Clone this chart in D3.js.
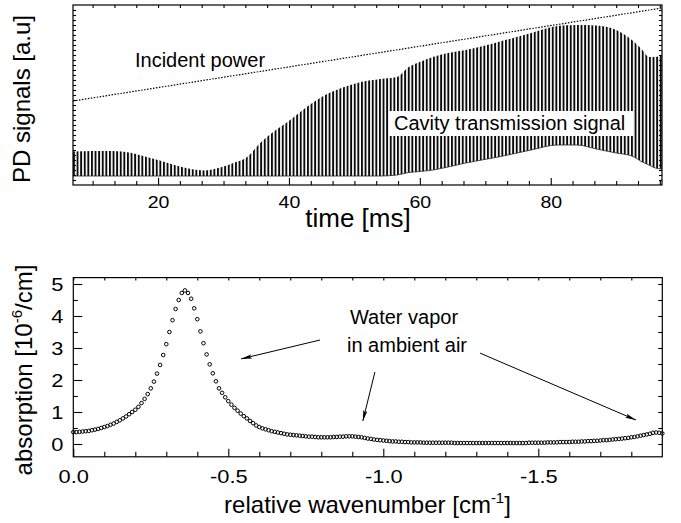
<!DOCTYPE html>
<html><head><meta charset="utf-8">
<script src="https://cdn.jsdelivr.net/npm/d3@7"></script>
<style>
body{margin:0;background:#fff;}
svg{display:block;font-family:"Liberation Sans",Arial,Helvetica,sans-serif;}
</style></head><body>
<svg id="chart" width="681" height="523"></svg>
<script>
// ---------- data: top panel ----------
const timeTicks = [20, 40, 60, 80];
const incidentTime = [7, 97];
const incidentPower = [16.8, 35.4];
const envTime  = [7,10,13,16,18,20,22.5,25,27,29.5,31.5,33.6,35.6,38,40,42.5,45,48,51,54,56.5,58.3,60,62,64.3,67,72,77,81,84,87,90,92.4,94,95,96,97];
const envUpper = [6.7,6.8,6.8,6.4,5.7,5.0,4.0,3.2,2.9,3.5,4.4,5.6,8.4,11.0,12.8,15.4,17.6,19.4,20.6,21.2,21.6,23.6,24.6,25.6,26.4,27.0,28.6,30.4,31.8,32.0,31.9,31.0,29.0,27.0,25.6,25.6,26.0];
const envLower = [1.8,1.8,1.8,1.8,1.8,1.8,1.8,1.8,1.8,1.8,1.8,1.8,1.8,1.8,1.8,1.8,1.8,1.8,1.8,1.8,2.0,2.5,2.7,3.0,3.6,4.4,5.6,7.0,8.0,8.0,7.2,6.4,5.8,4.6,4.0,3.4,3.2];

// ---------- data: bottom panel ----------
const wavenumberStart = 0, wavenumberStep = -0.01;
const absorption = [
0.37,0.37,0.38,0.39,0.40,0.41,0.43,0.45,0.47,0.50,
0.53,0.56,0.60,0.64,0.69,0.74,0.80,0.86,0.93,1.00,
1.07,1.16,1.28,1.41,1.56,1.74,1.95,2.20,2.47,2.78,
3.12,3.50,3.87,4.22,4.50,4.72,4.80,4.72,4.54,4.24,
3.90,3.52,3.15,2.80,2.49,2.21,1.96,1.74,1.60,1.46,
1.34,1.23,1.13,1.04,0.95,0.87,0.80,0.72,0.65,0.58,
0.53,0.49,0.46,0.43,0.40,0.38,0.36,0.34,0.32,0.30,
0.29,0.28,0.27,0.26,0.25,0.24,0.23,0.23,0.22,0.21,
0.21,0.21,0.21,0.21,0.22,0.22,0.23,0.23,0.24,0.24,
0.24,0.23,0.22,0.21,0.19,0.17,0.16,0.14,0.13,0.12,
0.11,0.10,0.09,0.08,0.08,0.07,0.07,0.06,0.06,0.05,
0.05,0.05,0.05,0.04,0.04,0.04,0.04,0.04,0.04,0.04,
0.04,0.04,0.04,0.03,0.03,0.03,0.03,0.03,0.03,0.03,
0.03,0.03,0.03,0.03,0.03,0.03,0.03,0.03,0.03,0.03,
0.03,0.03,0.03,0.03,0.03,0.03,0.03,0.04,0.04,0.04,
0.04,0.04,0.04,0.05,0.05,0.05,0.05,0.06,0.06,0.06,
0.06,0.07,0.07,0.07,0.08,0.08,0.09,0.09,0.10,0.10,
0.11,0.12,0.12,0.13,0.14,0.15,0.16,0.17,0.18,0.19,
0.21,0.22,0.24,0.26,0.28,0.30,0.32,0.35,0.36,0.35,
0.33];
const wnTicks = [0, -0.5, -1, -1.5];
const wnTickLabels = ["0.0", "-0.5", "-1.0", "-1.5"];
const absTicks = [0, 1, 2, 3, 4, 5];

// annotations (data coordinates of bottom panel)
const arrowStarts = [[-0.796, 3.25], [-0.973, 2.25], [-1.312, 2.84]];
const arrowEnds   = [[-0.541, 2.66], [-0.934, 0.72], [-1.815, 0.75]];

// ---------- drawing ----------
const svg = d3.select("#chart");
const FONT = '"Liberation Sans",Arial,Helvetica,sans-serif';
const STRETCH = "scale(1.15,1)";

// --- top panel ---
const xT = d3.scaleLinear().domain([7, 97]).range([73, 662]);
const yT = d3.scaleLinear().domain([0, 36]).range([185, 5]);

const defs = svg.append("defs");
const pat = defs.append("pattern").attr("id", "fringes")
  .attr("patternUnits", "userSpaceOnUse").attr("x", 73).attr("y", 0)
  .attr("width", 3.6).attr("height", 10);
pat.append("rect").attr("x", 0).attr("y", 0).attr("width", 1.9).attr("height", 10).attr("fill", "#0a0a0a");

defs.append("marker").attr("id", "arrowhead")
  .attr("viewBox", "0 0 10 4").attr("refX", 10).attr("refY", 2)
  .attr("markerWidth", 11).attr("markerHeight", 4.4)
  .attr("markerUnits", "userSpaceOnUse").attr("orient", "auto")
  .append("path").attr("d", "M0,0 L10,2 L0,4 L2,2 Z").attr("fill", "#000");

const envData = envTime.map((t, i) => ({t, hi: envUpper[i], lo: envLower[i]}));
const area = d3.area().x(d => xT(d.t)).y0(d => yT(d.lo)).y1(d => yT(d.hi)).curve(d3.curveMonotoneX);
svg.append("path").datum(envData).attr("d", area).attr("fill", "url(#fringes)");
svg.append("path").datum(envData)
  .attr("d", d3.line().x(d => xT(d.t)).y(d => yT(d.lo)).curve(d3.curveMonotoneX))
  .attr("fill", "none").attr("stroke", "#222").attr("stroke-width", 0.8);

// incident power (dotted)
svg.append("path").datum(incidentTime.map((t, i) => [t, incidentPower[i]]))
  .attr("d", d3.line().x(d => xT(d[0])).y(d => yT(d[1])))
  .attr("fill", "none").attr("stroke", "#000").attr("stroke-width", 1.2)
  .attr("stroke-dasharray", "1.5,1.5");

// frame
svg.append("rect").attr("x", xT.range()[0]).attr("y", yT.range()[1])
  .attr("width", xT.range()[1] - xT.range()[0]).attr("height", yT.range()[0] - yT.range()[1])
  .attr("fill", "none").attr("stroke", "#000").attr("stroke-width", 1.2);

const minorTime = d3.range(0, 27).map(i => 10 + i * 10 / 3).filter(v => timeTicks.every(m => Math.abs(m - v) > 0.01));
function styleAxis(g, fs) {
  g.select(".domain").remove();
  g.attr("font-family", FONT).attr("font-size", fs);
  g.selectAll("line").attr("stroke", "#000").attr("stroke-width", 1.1);
  g.selectAll("text").attr("fill", "#000");
}
svg.append("g").attr("transform", "translate(0,185)")
  .call(d3.axisBottom(xT).tickValues(timeTicks).tickSize(-7).tickPadding(11).tickFormat(d3.format("d")))
  .call(g => styleAxis(g, 17)).call(g => g.selectAll("text").attr("transform", STRETCH));
svg.append("g").attr("transform", "translate(0,185)")
  .call(d3.axisBottom(xT).tickValues(minorTime).tickSize(-4).tickFormat(""))
  .call(g => styleAxis(g, 17));
svg.append("g").attr("transform", "translate(0,5)")
  .call(d3.axisTop(xT).tickValues(timeTicks.concat(minorTime)).tickSize(-3).tickFormat(""))
  .call(g => styleAxis(g, 17));
svg.append("g").attr("transform", "translate(73,0)")
  .call(d3.axisLeft(yT).tickValues(d3.range(1, 36)).tickSize(-3).tickFormat(""))
  .call(g => styleAxis(g, 17));
svg.append("g").attr("transform", "translate(662,0)")
  .call(d3.axisRight(yT).tickValues(d3.range(1, 36)).tickSize(-3).tickFormat(""))
  .call(g => styleAxis(g, 17));

// labels
svg.append("rect").attr("x", 389).attr("y", 111).attr("width", 244).attr("height", 25).attr("fill", "#fff");
svg.append("text").attr("x", 394).attr("y", 130).attr("font-size", 20).text("Cavity transmission signal");
svg.append("text").attr("x", 135).attr("y", 67).attr("font-size", 20).text("Incident power");
svg.append("text").attr("x", 358).attr("y", 227).attr("text-anchor", "middle").attr("font-size", 26).text("time [ms]");
svg.append("text").attr("transform", "translate(30,99) rotate(-90)").attr("text-anchor", "middle")
  .attr("font-size", 24).text("PD signals [a.u]");

// --- bottom panel ---
const xB = d3.scaleLinear().domain([0, -1.9]).range([73.3, 662.3]);
const yB = d3.scaleLinear().domain([-0.4, 5.2]).range([456.8, 277.6]);

svg.append("g").selectAll("circle").data(absorption).join("circle")
  .attr("cx", (d, i) => xB(wavenumberStart + i * wavenumberStep))
  .attr("cy", d => yB(d)).attr("r", 1.8)
  .attr("fill", "none").attr("stroke", "#000").attr("stroke-width", 1);

svg.append("rect").attr("x", xB.range()[0]).attr("y", yB.range()[1])
  .attr("width", xB.range()[1] - xB.range()[0]).attr("height", yB.range()[0] - yB.range()[1])
  .attr("fill", "none").attr("stroke", "#000").attr("stroke-width", 1.2);

const minorWn = d3.range(1, 19).map(i => -i / 10).filter(v => wnTicks.every(m => Math.abs(m - v) > 1e-6));
const minorAbs = d3.range(0, 5).map(i => i + 0.5);
svg.append("g").attr("transform", "translate(0,456.8)")
  .call(d3.axisBottom(xB).tickValues(wnTicks).tickSize(-8).tickPadding(12.7).tickFormat((d, i) => wnTickLabels[i]))
  .call(g => styleAxis(g, 19)).call(g => g.selectAll("text").attr("transform", STRETCH));
svg.append("g").attr("transform", "translate(0,456.8)")
  .call(d3.axisBottom(xB).tickValues(minorWn).tickSize(-5).tickFormat(""))
  .call(g => styleAxis(g, 19));
svg.append("g").attr("transform", "translate(0,277.6)")
  .call(d3.axisTop(xB).tickValues(wnTicks.concat(minorWn)).tickSize(-3).tickFormat(""))
  .call(g => styleAxis(g, 19));
svg.append("g").attr("transform", "translate(73.3,0)")
  .call(d3.axisLeft(yB).tickValues(absTicks).tickSize(-9).tickPadding(8.5).tickFormat(d3.format("d")))
  .call(g => styleAxis(g, 19)).call(g => g.selectAll("text").attr("transform", STRETCH));
svg.append("g").attr("transform", "translate(73.3,0)")
  .call(d3.axisLeft(yB).tickValues(minorAbs).tickSize(-4.5).tickFormat(""))
  .call(g => styleAxis(g, 19));
svg.append("g").attr("transform", "translate(662.3,0)")
  .call(d3.axisRight(yB).tickValues(absTicks.concat(minorAbs)).tickSize(-4).tickFormat(""))
  .call(g => styleAxis(g, 19));

// annotations
svg.append("g").selectAll("line").data(arrowStarts).join("line")
  .attr("x1", d => xB(d[0])).attr("y1", d => yB(d[1]))
  .attr("x2", (d, i) => xB(arrowEnds[i][0])).attr("y2", (d, i) => yB(arrowEnds[i][1]))
  .attr("stroke", "#000").attr("stroke-width", 1).attr("marker-end", "url(#arrowhead)");
svg.append("text").attr("x", 404).attr("y", 324).attr("text-anchor", "middle").attr("font-size", 20).text("Water vapor");
svg.append("text").attr("x", 407).attr("y", 352).attr("text-anchor", "middle").attr("font-size", 20).text("in ambient air");

const xl = svg.append("text").attr("x", 367.5).attr("y", 513).attr("text-anchor", "middle").attr("font-size", 24);
xl.append("tspan").text("relative wavenumber [cm");
xl.append("tspan").attr("dy", -10).attr("font-size", 15).text("-1");
xl.append("tspan").attr("dy", 10).text("]");

const yl = svg.append("text").attr("transform", "translate(32,370) rotate(-90)").attr("text-anchor", "middle").attr("font-size", 24);
yl.append("tspan").text("absorption [10");
yl.append("tspan").attr("dy", -10).attr("font-size", 15).text("-6");
yl.append("tspan").attr("dy", 10).text("/cm]");
</script>
</body></html>
